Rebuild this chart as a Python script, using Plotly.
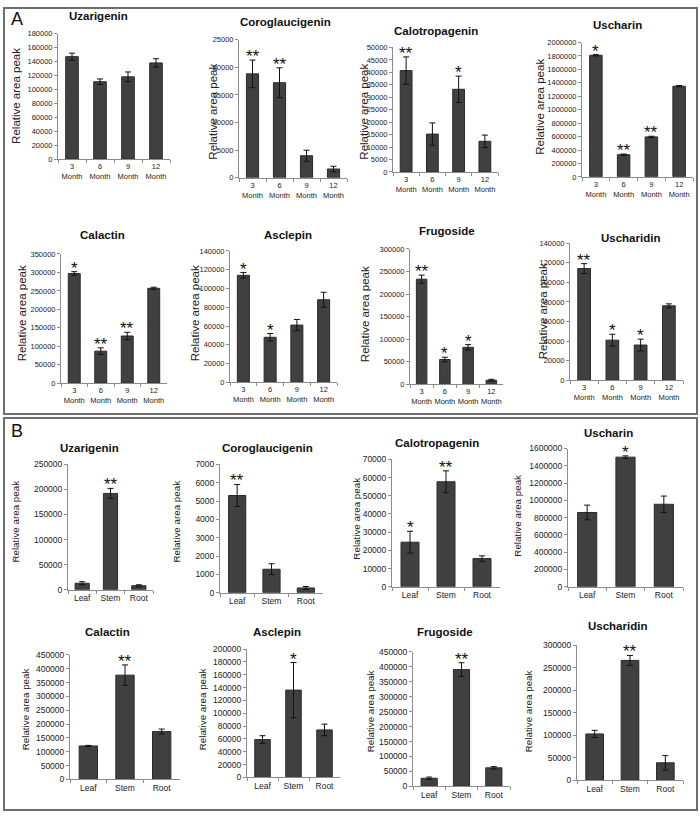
import plotly.graph_objects as go

W, H = 700, 818

# ---------------- data ----------------
months = ["3<br>Month", "6<br>Month", "9<br>Month", "12<br>Month"]
tissues = ["Leaf", "Stem", "Root"]

# Panel A (age)
a_uzarigenin = [147000, 111000, 118000, 138000]
a_uzarigenin_err = [5000, 4000, 7000, 6000]
a_uzarigenin_sig = ["", "", "", ""]

a_coroglaucigenin = [18800, 17200, 4000, 1600]
a_coroglaucigenin_err = [2500, 2700, 1000, 500]
a_coroglaucigenin_sig = ["**", "**", "", ""]

a_calotropagenin = [40700, 15200, 33200, 12300]
a_calotropagenin_err = [5500, 4500, 5300, 2500]
a_calotropagenin_sig = ["**", "", "*", ""]

a_uscharin = [1810000, 330000, 595000, 1350000]
a_uscharin_err = [10000, 10000, 10000, 10000]
a_uscharin_sig = ["*", "**", "**", ""]

a_calactin = [297000, 87000, 128000, 257000]
a_calactin_err = [5000, 9000, 10000, 3000]
a_calactin_sig = ["*", "**", "**", ""]

a_asclepin = [114000, 48000, 61000, 88000]
a_asclepin_err = [3000, 4000, 6000, 8000]
a_asclepin_sig = ["*", "*", "", ""]

a_frugoside = [233000, 55000, 82000, 9000]
a_frugoside_err = [9000, 5000, 6000, 2000]
a_frugoside_sig = ["**", "*", "*", ""]

a_uscharidin = [114000, 41000, 36000, 76000]
a_uscharidin_err = [5000, 6000, 6000, 2000]
a_uscharidin_sig = ["**", "*", "*", ""]

# Panel B (tissue)
b_uzarigenin = [13000, 192000, 8000]
b_uzarigenin_err = [3000, 10000, 2000]
b_uzarigenin_sig = ["", "**", ""]

b_coroglaucigenin = [5300, 1280, 260]
b_coroglaucigenin_err = [600, 300, 80]
b_coroglaucigenin_sig = ["**", "", ""]

b_calotropagenin = [24500, 57700, 15500]
b_calotropagenin_err = [6000, 6000, 1500]
b_calotropagenin_sig = ["*", "**", ""]

b_uscharin = [860000, 1500000, 955000]
b_uscharin_err = [85000, 15000, 95000]
b_uscharin_sig = ["", "*", ""]

b_calactin = [121000, 377000, 173000]
b_calactin_err = [2000, 37000, 9000]
b_calactin_sig = ["", "**", ""]

b_asclepin = [59000, 136000, 74000]
b_asclepin_err = [6000, 43000, 9000]
b_asclepin_sig = ["", "*", ""]

b_frugoside = [27000, 391000, 62000]
b_frugoside_err = [4000, 23000, 4000]
b_frugoside_sig = ["", "**", ""]

b_uscharidin = [103000, 266000, 39000]
b_uscharidin_err = [8000, 11000, 16000]
b_uscharidin_sig = ["", "**", ""]

# y-axis ranges (max, dtick)
a_ranges = [(180000, 20000), (25000, 5000), (50000, 5000), (2000000, 200000),
            (350000, 50000), (140000, 20000), (300000, 50000), (140000, 20000)]
b_ranges = [(250000, 50000), (7000, 1000), (70000, 10000), (1600000, 200000),
            (450000, 50000), (200000, 20000), (450000, 50000), (300000, 50000)]

titles = ["Uzarigenin", "Coroglaucigenin", "Calotropagenin", "Uscharin",
          "Calactin", "Asclepin", "Frugoside", "Uscharidin"]

a_vals = [a_uzarigenin, a_coroglaucigenin, a_calotropagenin, a_uscharin,
          a_calactin, a_asclepin, a_frugoside, a_uscharidin]
a_errs = [a_uzarigenin_err, a_coroglaucigenin_err, a_calotropagenin_err, a_uscharin_err,
          a_calactin_err, a_asclepin_err, a_frugoside_err, a_uscharidin_err]
a_sigs = [a_uzarigenin_sig, a_coroglaucigenin_sig, a_calotropagenin_sig, a_uscharin_sig,
          a_calactin_sig, a_asclepin_sig, a_frugoside_sig, a_uscharidin_sig]
b_vals = [b_uzarigenin, b_coroglaucigenin, b_calotropagenin, b_uscharin,
          b_calactin, b_asclepin, b_frugoside, b_uscharidin]
b_errs = [b_uzarigenin_err, b_coroglaucigenin_err, b_calotropagenin_err, b_uscharin_err,
          b_calactin_err, b_asclepin_err, b_frugoside_err, b_uscharidin_err]
b_sigs = [b_uzarigenin_sig, b_coroglaucigenin_sig, b_calotropagenin_sig, b_uscharin_sig,
          b_calactin_sig, b_asclepin_sig, b_frugoside_sig, b_uscharidin_sig]

# ---------------- layout geometry (pixels) ----------------
# plot box: x0, x1, ytop, ybottom
a_boxes = [(58, 170, 29, 156), (239, 347, 35, 175), (393, 498, 43, 169), (582, 693, 38, 174),
           (61, 167, 252, 383), (230, 337, 249, 382), (410, 503, 247, 384), (570, 683, 241, 380)]
b_boxes = [(68, 153, 465, 592), (220, 323, 465, 595), (392, 500, 460, 589), (568, 683, 449, 589),
           (70, 180, 658, 784), (247, 340, 652, 782), (413, 510, 655, 791), (577, 683, 648, 785)]
a_title_pos = [(98, 11), (285, 17), (436, 26), (617, 20), (103, 233), (288, 233), (447, 229), (630, 236)]
b_title_pos = [(90, 448), (267, 448), (437, 443), (608, 433), (107, 635), (277, 635), (445, 635), (617, 629)]
a_ytitle_pos = [(16, 92), (213, 108), (364, 108), (540, 103), (22, 312), (195, 312), (365, 313), (543, 310)]
b_ytitle_pos = [(16, 523), (177, 523), (357, 520), (518, 517), (25, 713), (202, 713), (370, 715), (528, 715)]

FONT = "Liberation Sans, Arial, sans-serif"
BAR = "#404040"
AXC = "#8c8c8c"

def px(x):
    return x / W

def py(y):
    return 1 - y / H

fig = go.Figure()
annotations = []
layout_axes = {}

charts = []
for i in range(8):
    charts.append(dict(cats=months, vals=a_vals[i], errs=a_errs[i], sigs=a_sigs[i],
                       rng=a_ranges[i], box=a_boxes[i], tpos=a_title_pos[i],
                       ypos=a_ytitle_pos[i], title=titles[i], tick=7.5, width=0.45,
                       ysize=11.5))
for i in range(8):
    charts.append(dict(cats=tissues, vals=b_vals[i], errs=b_errs[i], sigs=b_sigs[i],
                       rng=b_ranges[i], box=b_boxes[i], tpos=b_title_pos[i],
                       ypos=b_ytitle_pos[i], title=titles[i], tick=8.5, width=0.5,
                       ysize=9.8))

for k, c in enumerate(charts, start=1):
    xa = "x" if k == 1 else f"x{k}"
    ya = "y" if k == 1 else f"y{k}"
    fig.add_trace(go.Bar(
        x=c["cats"], y=c["vals"], xaxis=xa, yaxis=ya, width=c["width"],
        marker=dict(color=BAR, line=dict(color="#2a2a2a", width=1)),
        error_y=dict(type="data", array=c["errs"], color="#111111", thickness=1, width=3),
        showlegend=False, hoverinfo="skip"))
    x0, x1, yt, yb = c["box"]
    ymax, dt = c["rng"]
    layout_axes["xaxis" if k == 1 else f"xaxis{k}"] = dict(
        domain=[px(x0), px(x1)], anchor=ya, type="category",
        range=[-0.5, len(c["cats"]) - 0.5], tickangle=0,
        showline=True, linecolor=AXC, linewidth=1, ticks="outside", tickson="boundaries",
        ticklen=3, tickcolor=AXC, showgrid=False, zeroline=False,
        tickfont=dict(family=FONT, size=c["tick"], color="#222"), fixedrange=True)
    layout_axes["yaxis" if k == 1 else f"yaxis{k}"] = dict(
        domain=[py(yb), py(yt)], anchor=xa, range=[0, ymax], dtick=dt,
        showline=True, linecolor=AXC, linewidth=1, ticks="outside", ticklen=3,
        tickcolor=AXC, showgrid=False, zeroline=False, tickformat="d",
        tickfont=dict(family=FONT, size=c["tick"], color="#222"), fixedrange=True)
    # subplot title
    annotations.append(dict(x=px(c["tpos"][0]), y=py(c["tpos"][1]), xref="paper", yref="paper",
                            text=f"<b>{c['title']}</b>", showarrow=False,
                            font=dict(family=FONT, size=11.5, color="#111"),
                            xanchor="center", yanchor="middle"))
    # y-axis title
    annotations.append(dict(x=px(c["ypos"][0]), y=py(c["ypos"][1]), xref="paper", yref="paper",
                            text="Relative area peak", showarrow=False, textangle=-90,
                            font=dict(family=FONT, size=c["ysize"], color="#222"),
                            xanchor="center", yanchor="middle"))
    # significance stars
    for cat, v, e, s in zip(c["cats"], c["vals"], c["errs"], c["sigs"]):
        if s:
            annotations.append(dict(x=cat, y=v + e, xref=xa, yref=ya, text=s, showarrow=False,
                                    font=dict(family=FONT, size=17, color="#111"),
                                    xanchor="center", yanchor="bottom", yshift=-8))

# panel letters
annotations.append(dict(x=px(9), y=py(14), xref="paper", yref="paper", text="A", showarrow=False,
                        font=dict(family=FONT, size=18, color="#111"), xanchor="left", yanchor="middle"))
annotations.append(dict(x=px(9), y=py(431), xref="paper", yref="paper", text="B", showarrow=False,
                        font=dict(family=FONT, size=18, color="#111"), xanchor="left", yanchor="middle"))

shapes = [
    dict(type="rect", xref="paper", yref="paper", x0=px(4), x1=px(697), y0=py(414), y1=py(3),
         line=dict(color="#6e6e6e", width=2)),
    dict(type="rect", xref="paper", yref="paper", x0=px(4), x1=px(697), y0=py(815), y1=py(418),
         line=dict(color="#6e6e6e", width=2)),
]

fig.update_layout(width=W, height=H, margin=dict(l=0, r=0, t=0, b=0),
                  plot_bgcolor="white", paper_bgcolor="white", hovermode=False,
                  annotations=annotations, shapes=shapes, bargap=0.5, **layout_axes)

fig.write_html("out.html", config={"displayModeBar": False, "staticPlot": True},
               post_script="document.body.style.margin='0';document.body.style.overflow='hidden';")
